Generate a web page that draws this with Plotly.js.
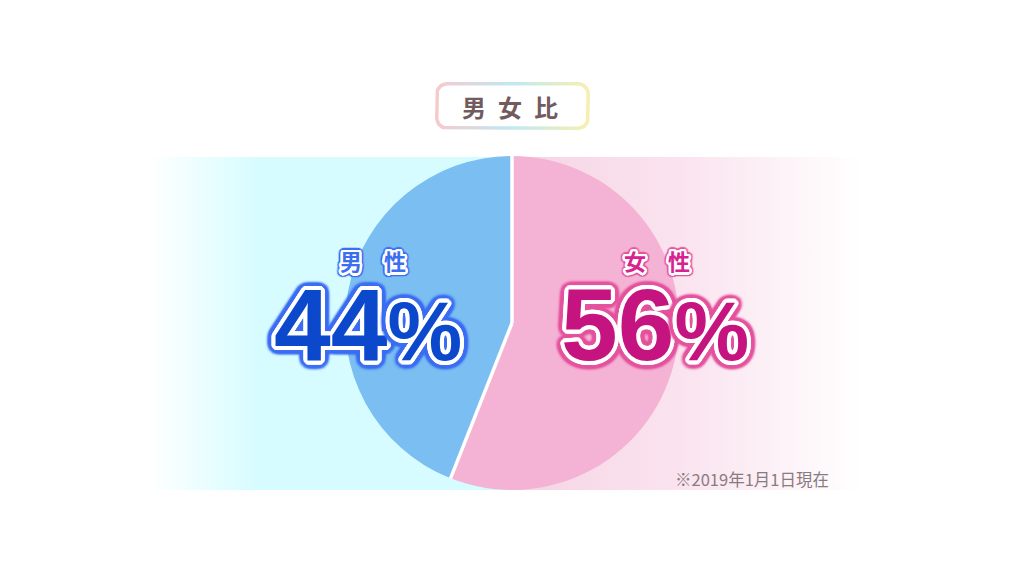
<!DOCTYPE html>
<html>
<head>
<meta charset="utf-8">
<script src="https://cdn.plot.ly/plotly-3.0.1.min.js"></script>
<style>html,body{margin:0;padding:0;background:#fff;}#chart{width:1024px;height:576px;}</style>
</head>
<body>
<div id="chart"></div>
<script>
// ---- data ----
const chartTitle = '男女比';
const categories = ['男性', '女性'];
const shares = [44, 56];
const sliceColors = ['#7bbef1', '#f4b3d4'];
const footnote = '※2019年1月1日現在';

// ---- helpers (geometry only) ----
function roundRect(x0, y0, x1, y1, r) {
  const xs = [], ys = [];
  const corners = [
    [x1 - r, y0 + r, -90, 0],
    [x1 - r, y1 - r, 0, 90],
    [x0 + r, y1 - r, 90, 180],
    [x0 + r, y0 + r, 180, 270]
  ];
  corners.forEach(([cx, cy, a0, a1]) => {
    for (let a = a0; a <= a1; a += 10) {
      const t = a * Math.PI / 180;
      xs.push(cx + r * Math.cos(t));
      ys.push(cy + r * Math.sin(t));
    }
  });
  xs.push(xs[0]); ys.push(ys[0]);
  return {x: xs, y: ys};
}
function ring(color, rad, n, blur) {
  const out = [];
  for (let i = 0; i < n; i++) {
    const t = 2 * Math.PI * i / n;
    out.push((rad * Math.cos(t)).toFixed(2) + 'px ' + (rad * Math.sin(t)).toFixed(2) + 'px ' + blur + 'px ' + color);
  }
  return out;
}
function outline(outer) {
  return ring('#ffffff', 2, 12, 0)
    .concat(ring('#ffffff', 4, 20, 0))
    .concat(ring(outer, 6, 24, 1))
    .concat(ring(outer, 7.5, 24, 2.5))
    .join(', ');
}

const W = 1024, H = 576;
const cx = 512, cy = 323, R = 167;

const traces = [];

// background bands
traces.push({
  type: 'scatter', mode: 'lines', x: [150, 512, 512, 150, 150], y: [157, 157, 490, 490, 157],
  fill: 'toself', line: {width: 0}, hoverinfo: 'skip', showlegend: false,
  fillgradient: {type: 'horizontal', start: 150, stop: 512,
    colorscale: [[0, 'rgba(214,252,255,0)'], [0.3, 'rgb(214,252,255)'], [1, 'rgb(214,252,255)']]}
});
traces.push({
  type: 'scatter', mode: 'lines', x: [512, 862, 862, 512, 512], y: [157, 157, 490, 490, 157],
  fill: 'toself', line: {width: 0}, hoverinfo: 'skip', showlegend: false,
  fillgradient: {type: 'horizontal', start: 512, stop: 862,
    colorscale: [[0, 'rgb(246,212,228)'], [0.5, 'rgb(250,228,239)'], [1, 'rgba(255,255,255,1)']]}
});

// title box with gradient border
const outerBox = roundRect(435, 82, 590, 130, 12);
const innerBox = roundRect(438.5, 85.5, 586.5, 126.5, 9);
traces.push({
  type: 'scatter', mode: 'lines', x: outerBox.x, y: outerBox.y, fill: 'toself',
  line: {width: 0}, hoverinfo: 'skip', showlegend: false,
  fillgradient: {type: 'horizontal', start: 435, stop: 590,
    colorscale: [[0, '#f7c9cc'], [0.5, '#bfe9f2'], [1, '#f8efae']]}
});
traces.push({
  type: 'scatter', mode: 'lines', x: innerBox.x, y: innerBox.y, fill: 'toself',
  fillcolor: '#ffffff', line: {width: 0}, hoverinfo: 'skip', showlegend: false
});

// pie: slices are laid clockwise from 12 o'clock, so feed the series in reverse
// order to get 男性 on the left (counterclockwise from the top)
traces.push({
  type: 'pie',
  labels: categories.slice().reverse(),
  values: shares.slice().reverse(),
  sort: false,
  direction: 'clockwise',
  rotation: 0,
  textinfo: 'none',
  hoverinfo: 'skip',
  showlegend: false,
  marker: {colors: sliceColors.slice().reverse(), line: {color: 'rgba(0,0,0,0)', width: 0}},
  domain: {x: [(cx - R) / W, (cx + R) / W], y: [(H - cy - R) / H, (H - cy + R) / H]}
});

// white separators between slices, at the data-derived boundary angles
const total = shares.reduce((a, b) => a + b, 0);
const shapes = [];
let acc = 0;
[0].concat(shares.slice(0, -1)).forEach((v) => {
  acc += v;
  const ang = -2 * Math.PI * acc / total; // counterclockwise from top (screen)
  shapes.push({
    type: 'line', xref: 'x', yref: 'y', layer: 'above',
    x0: cx, y0: cy, x1: cx + R * Math.sin(ang), y1: cy - R * Math.cos(ang),
    line: {color: '#ffffff', width: 3.5}
  });
});

const labelPos = [{x: 373, y: 260, px: 368, py: 325}, {x: 657, y: 260, px: 655, py: 325}];
const labelStyle = [
  {fill: '#0b48cc', small: '#3b6ff0', outer: '#3d6ef2'},
  {fill: '#c5137f', small: '#d6238f', outer: '#e4559f'}
];

const annotations = [];
annotations.push({
  xref: 'x', yref: 'y', x: 510, y: 106, text: chartTitle.split('').join('\u2002'), showarrow: false,
  font: {family: 'Noto Sans CJK JP', size: 24, color: '#725a5e', weight: 'bold'}
});
categories.forEach((c, i) => {
  const p = labelPos[i], s = labelStyle[i];
  annotations.push({
    xref: 'x', yref: 'y', x: p.x, y: p.y, text: c.split('').join('\u3000'), showarrow: false,
    font: {family: 'Noto Sans CJK JP', size: 22, color: s.small, weight: 'bold',
      shadow: ring('#ffffff', 1.5, 12, 0).concat(ring('#ffffff', 2.5, 16, 0)).concat(ring(s.outer, 4, 16, 1)).join(', ')}
  });
  annotations.push({
    xref: 'x', yref: 'y', x: p.px, y: p.py,
    text: shares[i] + '<span style="font-size:84px">%</span>', showarrow: false,
    font: {family: 'Liberation Sans', size: 102, color: s.fill, weight: 'bold', shadow: outline(s.outer)}
  });
});
annotations.push({
  xref: 'x', yref: 'y', x: 831, y: 479, xanchor: 'right', text: footnote, showarrow: false,
  font: {family: 'Noto Sans CJK JP', size: 16.5, color: '#8a7b80'}
});

const layout = {
  width: W, height: H,
  margin: {l: 0, r: 0, t: 0, b: 0},
  paper_bgcolor: '#ffffff', plot_bgcolor: 'rgba(0,0,0,0)',
  xaxis: {range: [0, W], visible: false, fixedrange: true},
  yaxis: {range: [H, 0], visible: false, fixedrange: true},
  showlegend: false,
  shapes: shapes,
  annotations: annotations
};

Plotly.newPlot('chart', traces, layout, {staticPlot: true, displayModeBar: false});
</script>
</body>
</html>
